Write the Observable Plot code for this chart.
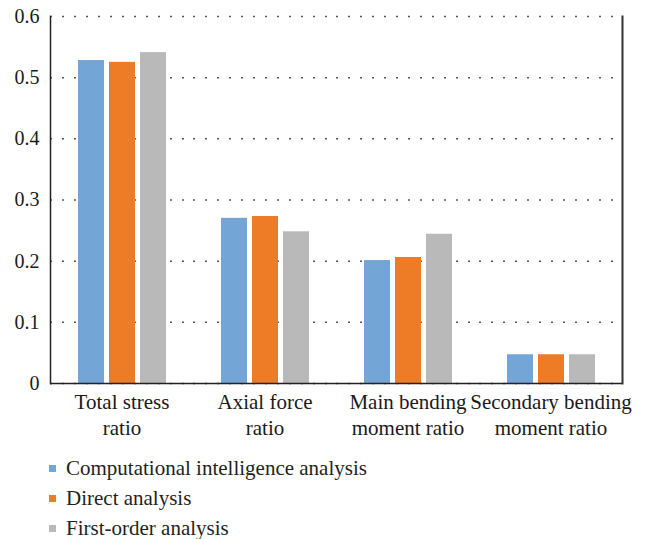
<!DOCTYPE html>
<html>
<head>
<meta charset="utf-8">
<script src="https://cdn.jsdelivr.net/npm/d3@7"></script>
<script src="https://cdn.jsdelivr.net/npm/@observablehq/plot@0.6"></script>
<style>
  body { margin: 0; background: #fff; font-family: "Liberation Serif", "Times New Roman", serif; }
  #chart svg { display: block; overflow: visible; font-family: "Liberation Serif", "Times New Roman", serif; }
  #legend { padding-top: 8px; }
  .item { display: flex; align-items: center; height: 30px; font-size: 21px; line-height: 1; color: #231f20; }
  .swatch { width: 7px; height: 7px; margin-left: 49px; margin-right: 10px; }
</style>
</head>
<body>
<div id="chart"></div>
<div id="legend"></div>
<script>
// Load ratios by analysis method
const categories = ["Total stress ratio", "Axial force ratio", "Main bending moment ratio", "Secondary bending moment ratio"];
const categoryLabels = ["Total stress\nratio", "Axial force\nratio", "Main bending\nmoment ratio", "Secondary bending\nmoment ratio"];
const seriesNames = ["Computational intelligence analysis", "Direct analysis", "First-order analysis"];
const computational = [0.528, 0.270, 0.201, 0.047];
const direct = [0.525, 0.273, 0.206, 0.047];
const firstOrder = [0.541, 0.248, 0.244, 0.047];
const seriesColors = ["#74a5d7", "#ee7b26", "#b9b9b9"];
const yTicks = [0, 0.1, 0.2, 0.3, 0.4, 0.5, 0.6];

const seriesValues = [computational, direct, firstOrder];
const rows = categories.flatMap((c, i) =>
  seriesNames.map((s, j) => ({category: c, series: s, value: seriesValues[j][i]}))
);

const serif = "'Liberation Serif', 'Times New Roman', serif";

const chart = Plot.plot({
  width: 652,
  height: 445,
  marginLeft: 49,
  marginRight: 29,
  marginTop: 16,
  marginBottom: 62,
  style: {fontFamily: serif, fontSize: "20px", color: "#1a1a1a", background: "#fff"},
  fx: {domain: categories, padding: 0, label: null, axis: null},
  x: {domain: seriesNames, paddingInner: 0.17, paddingOuter: 0.86, axis: null},
  y: {domain: [0, 0.6], label: null, axis: null},
  color: {domain: seriesNames, range: seriesColors},
  marks: [
    Plot.gridY(yTicks, {stroke: "#555", strokeOpacity: 1, strokeWidth: 1.5, strokeDasharray: "2,10"}),
    Plot.barY(rows, {fx: "category", x: "series", y: "value", fill: "series"}),
    Plot.axisY(yTicks, {tickSize: 0, tickPadding: 11, label: null, fontSize: 20, fontFamily: serif,
      fill: "#1a1a1a", tickFormat: d => d === 0 ? "0" : d.toFixed(1)}),
    Plot.axisFx({anchor: "bottom", tickSize: 0, tickPadding: 8, label: null, lineHeight: 1.2,
      fontSize: 21, fontFamily: serif, fill: "#1a1a1a",
      tickFormat: c => categoryLabels[categories.indexOf(c)]}),
    Plot.ruleY([0], {stroke: "#222", strokeWidth: 1.5}),
    Plot.frame({anchor: "left", facetAnchor: "left", stroke: "#222", strokeWidth: 1.5}),
    Plot.frame({anchor: "right", facetAnchor: "right", stroke: "#333", strokeWidth: 2})
  ]
});
document.getElementById("chart").append(chart);

const legend = document.getElementById("legend");
seriesNames.forEach((name, i) => {
  const item = document.createElement("div");
  item.className = "item";
  const sw = document.createElement("span");
  sw.className = "swatch";
  sw.style.background = seriesColors[i];
  const label = document.createElement("span");
  label.textContent = name;
  item.append(sw, label);
  legend.append(item);
});
</script>
</body>
</html>
